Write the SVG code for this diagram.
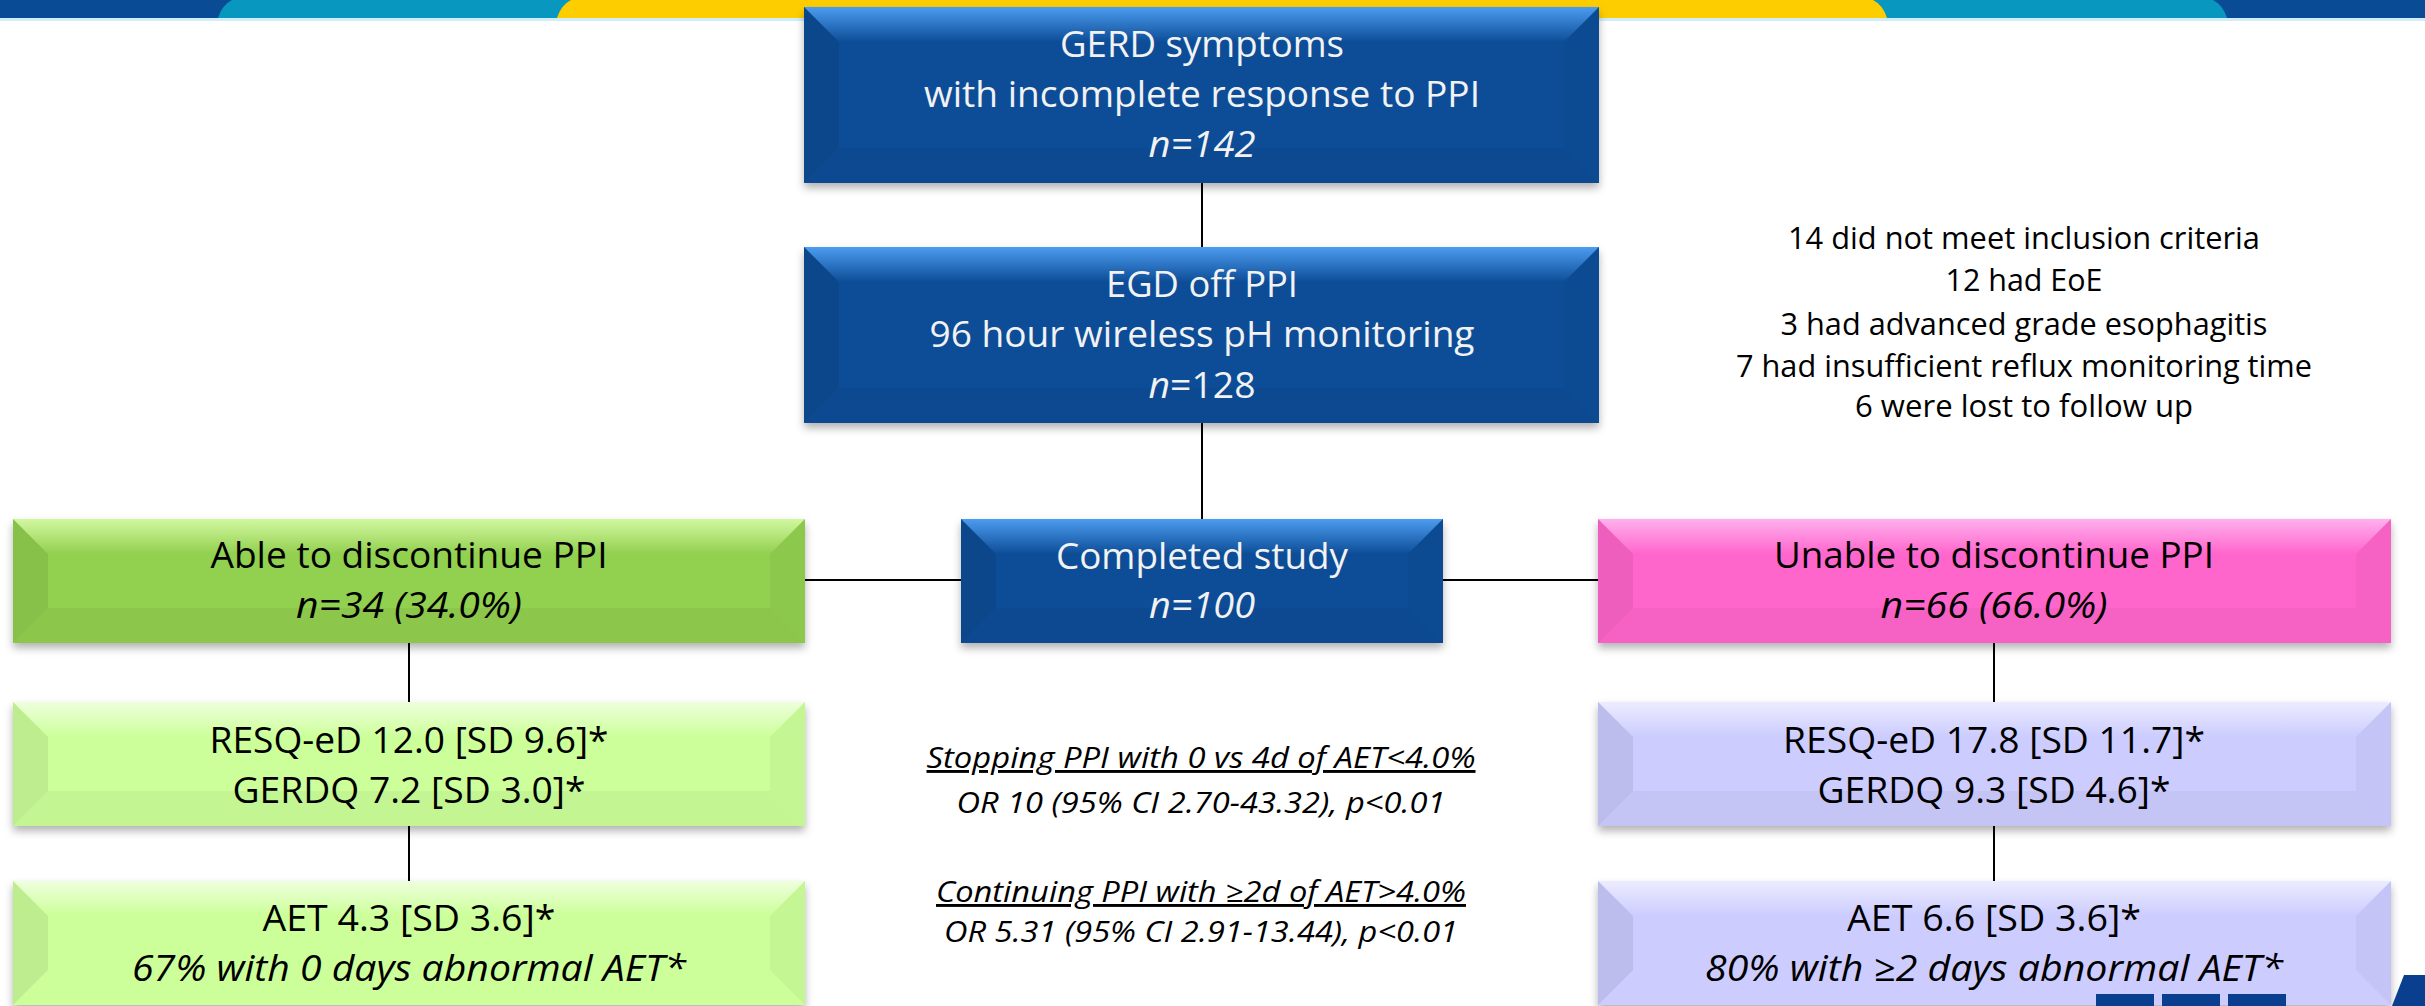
<svg xmlns="http://www.w3.org/2000/svg" width="2425" height="1006" viewBox="0 0 2425 1006">
<defs>
<filter id="sh" x="-5%" y="-10%" width="110%" height="130%">
<feDropShadow dx="0" dy="5" stdDeviation="4" flood-color="#000" flood-opacity="0.3"/>
</filter>
<linearGradient id="tBlue" x1="0" y1="0" x2="0" y2="1"><stop offset="0" stop-color="#4c9cf0"/><stop offset="1" stop-color="#4c9cf0" stop-opacity="0"/></linearGradient>
<linearGradient id="tGreen" x1="0" y1="0" x2="0" y2="1"><stop offset="0" stop-color="#d2f7a0"/><stop offset="1" stop-color="#d2f7a0" stop-opacity="0"/></linearGradient>
<linearGradient id="tLight" x1="0" y1="0" x2="0" y2="1"><stop offset="0" stop-color="#eeffdd"/><stop offset="1" stop-color="#eeffdd" stop-opacity="0"/></linearGradient>
<linearGradient id="tPink" x1="0" y1="0" x2="0" y2="1"><stop offset="0" stop-color="#ffb0ee"/><stop offset="1" stop-color="#ffb0ee" stop-opacity="0"/></linearGradient>
<linearGradient id="tLav" x1="0" y1="0" x2="0" y2="1"><stop offset="0" stop-color="#ececff"/><stop offset="1" stop-color="#ececff" stop-opacity="0"/></linearGradient>
</defs>
<style>
text{font-family:"Open Sans","Liberation Sans",sans-serif;text-anchor:middle}
.bx{font-size:37px}
.wt{fill:#f2f2f2}
.bk{fill:#000}
.it{font-style:italic}
.nt{font-size:31px;fill:#000}
.md{font-size:29px;fill:#000;font-style:italic}
.u{text-decoration:underline}
.blue{fill:#0c4d97}
.green{fill:#92d050}
.light{fill:#ccff99}
.pink{fill:#ff66cc}
.lav{fill:#ccccff}
.fl{fill:#000;fill-opacity:0.07}
.fr{fill:#000;fill-opacity:0.035}
.fb{fill:#000;fill-opacity:0.04}
.conn line{stroke:#000;stroke-width:2}
</style>
<rect width="2425" height="1006" fill="#fff"/>
<g id="header">
<rect x="0" y="0" width="2425" height="18" fill="#0a4b96"/>
<path d="M218,18 Q222,5 232,0 H2213 Q2223,5 2227,18 Z" fill="#0898bf"/>
<path d="M557,18 Q561,5 571,0 H1873 Q1883,5 1887,18 Z" fill="#fecd00"/>
<rect x="0" y="18" width="2425" height="3" fill="#cfeefa"/>
</g>
<g class="conn" id="connectors">
<line x1="1202" y1="183" x2="1202" y2="247"/>
<line x1="1202" y1="423" x2="1202" y2="519"/>
<line x1="805" y1="580" x2="961" y2="580"/>
<line x1="1443" y1="580" x2="1598" y2="580"/>
<line x1="409" y1="643" x2="409" y2="702"/>
<line x1="409" y1="826" x2="409" y2="881"/>
<line x1="1994" y1="643" x2="1994" y2="702"/>
<line x1="1994" y1="826" x2="1994" y2="881"/>
</g>
<g id="n1">
<rect class="blue" x="804" y="7" width="795" height="176" filter="url(#sh)"/>
<path d="M804,7 H1599 L1564,42 H839 Z" fill="url(#tBlue)"/>
<path class="fl" d="M804,7 L839,42 V148 L804,183 Z"/>
<path class="fr" d="M1599,7 V183 L1564,148 V42 Z"/>
<path class="fb" d="M804,183 H1599 L1564,148 H839 Z"/>
<text class="bx wt" x="1202" y="57" textLength="284" lengthAdjust="spacingAndGlyphs">GERD symptoms</text>
<text class="bx wt" x="1202" y="107" textLength="556" lengthAdjust="spacingAndGlyphs">with incomplete response to PPI</text>
<text class="bx wt it" x="1202" y="157" textLength="107" lengthAdjust="spacingAndGlyphs">n=142</text>
</g>
<g id="n2">
<rect class="blue" x="804" y="247" width="795" height="176" filter="url(#sh)"/>
<path d="M804,247 H1599 L1564,282 H839 Z" fill="url(#tBlue)"/>
<path class="fl" d="M804,247 L839,282 V388 L804,423 Z"/>
<path class="fr" d="M1599,247 V423 L1564,388 V282 Z"/>
<path class="fb" d="M804,423 H1599 L1564,388 H839 Z"/>
<text class="bx wt" x="1202" y="297" textLength="192" lengthAdjust="spacingAndGlyphs">EGD off PPI</text>
<text class="bx wt" x="1202" y="347" textLength="545" lengthAdjust="spacingAndGlyphs">96 hour wireless pH monitoring</text>
<text class="bx wt" x="1202" y="398" textLength="107" lengthAdjust="spacingAndGlyphs"><tspan class="it">n</tspan>=128</text>
</g>
<g id="n3">
<rect class="blue" x="961" y="519" width="482" height="124" filter="url(#sh)"/>
<path d="M961,519 H1443 L1408,554 H996 Z" fill="url(#tBlue)"/>
<path class="fl" d="M961,519 L996,554 V608 L961,643 Z"/>
<path class="fr" d="M1443,519 V643 L1408,608 V554 Z"/>
<path class="fb" d="M961,643 H1443 L1408,608 H996 Z"/>
<text class="bx wt" x="1202" y="569" textLength="292" lengthAdjust="spacingAndGlyphs">Completed study</text>
<text class="bx wt it" x="1202" y="618" textLength="106" lengthAdjust="spacingAndGlyphs">n=100</text>
</g>
<g id="n4">
<rect class="green" x="13" y="519" width="792" height="124" filter="url(#sh)"/>
<path d="M13,519 H805 L770,554 H48 Z" fill="url(#tGreen)"/>
<path class="fl" d="M13,519 L48,554 V608 L13,643 Z"/>
<path class="fr" d="M805,519 V643 L770,608 V554 Z"/>
<path class="fb" d="M13,643 H805 L770,608 H48 Z"/>
<text class="bx bk" x="409" y="568" textLength="397" lengthAdjust="spacingAndGlyphs">Able to discontinue PPI</text>
<text class="bx bk it" x="409" y="618" textLength="226" lengthAdjust="spacingAndGlyphs">n=34 (34.0%)</text>
</g>
<g id="n5">
<rect class="pink" x="1598" y="519" width="793" height="124" filter="url(#sh)"/>
<path d="M1598,519 H2391 L2356,554 H1633 Z" fill="url(#tPink)"/>
<path class="fl" d="M1598,519 L1633,554 V608 L1598,643 Z"/>
<path class="fr" d="M2391,519 V643 L2356,608 V554 Z"/>
<path class="fb" d="M1598,643 H2391 L2356,608 H1633 Z"/>
<text class="bx bk" x="1994" y="568" textLength="440" lengthAdjust="spacingAndGlyphs">Unable to discontinue PPI</text>
<text class="bx bk it" x="1994" y="618" textLength="227" lengthAdjust="spacingAndGlyphs">n=66 (66.0%)</text>
</g>
<g id="n6">
<rect class="light" x="13" y="702" width="792" height="124" filter="url(#sh)"/>
<path d="M13,702 H805 L770,737 H48 Z" fill="url(#tLight)"/>
<path class="fl" d="M13,702 L48,737 V791 L13,826 Z"/>
<path class="fr" d="M805,702 V826 L770,791 V737 Z"/>
<path class="fb" d="M13,826 H805 L770,791 H48 Z"/>
<text class="bx bk" x="409" y="753" textLength="399" lengthAdjust="spacingAndGlyphs">RESQ-eD 12.0 [SD 9.6]*</text>
<text class="bx bk" x="409" y="803" textLength="353" lengthAdjust="spacingAndGlyphs">GERDQ 7.2 [SD 3.0]*</text>
</g>
<g id="n7">
<rect class="light" x="13" y="881" width="792" height="124" filter="url(#sh)"/>
<path d="M13,881 H805 L770,916 H48 Z" fill="url(#tLight)"/>
<path class="fl" d="M13,881 L48,916 V970 L13,1005 Z"/>
<path class="fr" d="M805,881 V1005 L770,970 V916 Z"/>
<text class="bx bk" x="409" y="931" textLength="293" lengthAdjust="spacingAndGlyphs">AET 4.3 [SD 3.6]*</text>
<text class="bx bk it" x="409" y="981" textLength="554" lengthAdjust="spacingAndGlyphs">67% with 0 days abnormal AET*</text>
</g>
<g id="n8">
<rect class="lav" x="1598" y="702" width="793" height="124" filter="url(#sh)"/>
<path d="M1598,702 H2391 L2356,737 H1633 Z" fill="url(#tLav)"/>
<path class="fl" d="M1598,702 L1633,737 V791 L1598,826 Z"/>
<path class="fr" d="M2391,702 V826 L2356,791 V737 Z"/>
<path class="fb" d="M1598,826 H2391 L2356,791 H1633 Z"/>
<text class="bx bk" x="1994" y="753" textLength="422" lengthAdjust="spacingAndGlyphs">RESQ-eD 17.8 [SD 11.7]*</text>
<text class="bx bk" x="1994" y="803" textLength="353" lengthAdjust="spacingAndGlyphs">GERDQ 9.3 [SD 4.6]*</text>
</g>
<g id="n9">
<rect class="lav" x="1598" y="881" width="793" height="124" filter="url(#sh)"/>
<path d="M1598,881 H2391 L2356,916 H1633 Z" fill="url(#tLav)"/>
<path class="fl" d="M1598,881 L1633,916 V970 L1598,1005 Z"/>
<path class="fr" d="M2391,881 V1005 L2356,970 V916 Z"/>
<text class="bx bk" x="1994" y="931" textLength="294" lengthAdjust="spacingAndGlyphs">AET 6.6 [SD 3.6]*</text>
<text class="bx bk it" x="1994" y="981" textLength="578" lengthAdjust="spacingAndGlyphs">80% with ≥2 days abnormal AET*</text>
</g>
<g id="notes">
<text class="nt" x="2024" y="249" textLength="472" lengthAdjust="spacingAndGlyphs">14 did not meet inclusion criteria</text>
<text class="nt" x="2024" y="291" textLength="157" lengthAdjust="spacingAndGlyphs">12 had EoE</text>
<text class="nt" x="2024" y="335" textLength="487" lengthAdjust="spacingAndGlyphs">3 had advanced grade esophagitis</text>
<text class="nt" x="2024" y="377" textLength="576" lengthAdjust="spacingAndGlyphs">7 had insufficient reflux monitoring time</text>
<text class="nt" x="2024" y="417" textLength="338" lengthAdjust="spacingAndGlyphs">6 were lost to follow up</text>
</g>
<g id="stats">
<text class="md u" x="1201" y="768" textLength="549" lengthAdjust="spacingAndGlyphs">Stopping PPI with 0 vs 4d of AET&lt;4.0%</text>
<text class="md" x="1201" y="813" textLength="489" lengthAdjust="spacingAndGlyphs">OR 10 (95% CI 2.70-43.32), p&lt;0.01</text>
<text class="md u" x="1201" y="902" textLength="530" lengthAdjust="spacingAndGlyphs">Continuing PPI with ≥2d of AET&gt;4.0%</text>
<text class="md" x="1201" y="942" textLength="514" lengthAdjust="spacingAndGlyphs">OR 5.31 (95% CI 2.91-13.44), p&lt;0.01</text>
</g>
<g id="logo" fill="#0a3f8f">
<rect x="2096" y="994" width="58" height="12"/>
<rect x="2162" y="994" width="58" height="12"/>
<rect x="2228" y="994" width="58" height="12"/>
<path d="M2392,1006 L2404,975 H2425 V1006 Z"/>
</g>
</svg>
